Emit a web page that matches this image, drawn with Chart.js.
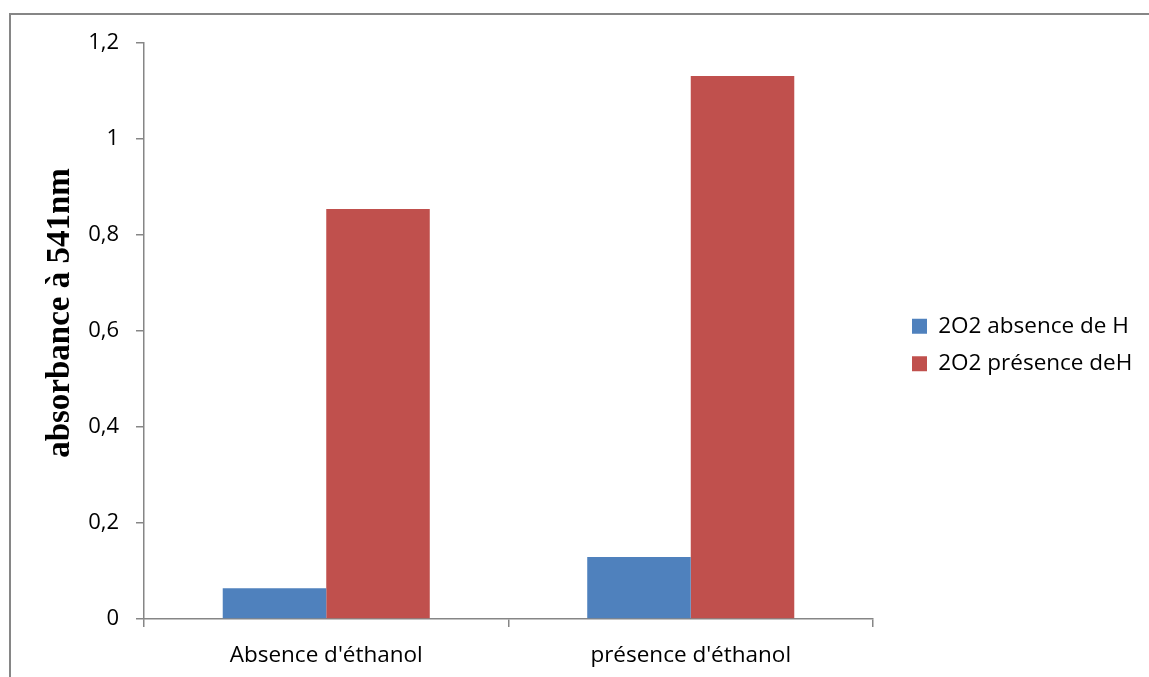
<!DOCTYPE html>
<html>
<head>
<meta charset="utf-8">
<title>Absorbance à 541nm</title>
<script src="https://cdn.jsdelivr.net/npm/chart.js@4.4.1/dist/chart.umd.min.js"></script>
<style>
  html, body { margin: 0; padding: 0; background: #ffffff; }
  #wrap { position: relative; width: 1149px; height: 677px; }
</style>
</head>
<body>
<div id="wrap"><canvas id="chart" width="1149" height="677"></canvas></div>
<script>
// Categories and measured absorbance values
const categories = ["Absence d'éthanol", "présence d'éthanol"];
const seriesNames = ["2O2 absence de H", "2O2 présence deH"];
const absenceH = [0.064, 0.129];
const presenceH = [0.854, 1.131];
const yTickLabels = ["0", "0,2", "0,4", "0,6", "0,8", "1", "1,2"];

const AXIS_GREY = '#868686';

Chart.defaults.font.family = "'Open Sans', 'DejaVu Sans', sans-serif";
Chart.defaults.color = '#000000';

// Grey outer frame (top and left edges of the chart box)
const frame = {
  id: 'frame',
  beforeDraw(chart) {
    const ctx = chart.ctx;
    ctx.save();
    ctx.strokeStyle = AXIS_GREY;
    ctx.lineWidth = 2;
    ctx.beginPath();
    ctx.moveTo(10, chart.height + 2);
    ctx.lineTo(10, 14);
    ctx.lineTo(chart.width + 2, 14);
    ctx.stroke();
    ctx.restore();
  }
};

// Legend occupies the strip right of the plot; items sit a little in from its edge.
// The y-axis title sits slightly above the middle of the axis.
const placement = {
  id: 'placement',
  beforeLayout(chart) {
    const lg = chart.legend;
    if (lg && !lg._fixedFit) {
      const fit = lg.fit;
      lg.fit = function () {
        fit.call(this);
        this.width = 276;
      };
      lg._fixedFit = true;
    }
  },
  afterLayout(chart) {
    const lg = chart.legend;
    if (lg) {
      lg.left += 24; lg.right += 24;
      lg.top -= 15; lg.bottom -= 15;
    }
    const y = chart.scales.y;
    if (y && !y._raisedTitle) {
      const drawTitle = y.drawTitle;
      y.drawTitle = function () {
        this.ctx.save();
        this.ctx.translate(0, -18);
        drawTitle.call(this);
        this.ctx.restore();
      };
      y._raisedTitle = true;
    }
  }
};

new Chart(document.getElementById('chart'), {
  type: 'bar',
  data: {
    labels: categories,
    datasets: [
      { label: seriesNames[0], data: absenceH, backgroundColor: '#4F81BD', borderWidth: 0 },
      { label: seriesNames[1], data: presenceH, backgroundColor: '#C0504D', borderWidth: 0 }
    ]
  },
  options: {
    responsive: false,
    animation: false,
    devicePixelRatio: 1,
    layout: { padding: { top: 43, right: 0, bottom: 0, left: 0 } },
    datasets: { bar: { categoryPercentage: 0.568, barPercentage: 1.0 } },
    plugins: {
      tooltip: { enabled: false },
      legend: {
        position: 'right',
        labels: {
          boxWidth: 15,
          boxHeight: 15,
          padding: 15,
          font: { size: 22.5 },
          color: '#000000'
        }
      }
    },
    scales: {
      x: {
        grid: { offset: true, drawOnChartArea: false, tickLength: 8, color: AXIS_GREY, lineWidth: 1.5 },
        border: { color: AXIS_GREY, width: 1.5 },
        ticks: { font: { size: 22.5 }, padding: 15, color: '#000000', maxRotation: 0 },
        afterFit(scale) { scale.height = 58; }
      },
      y: {
        min: 0,
        max: 1.2,
        ticks: {
          stepSize: 0.2,
          font: { size: 22 },
          padding: 17,
          color: '#000000',
          callback: (v, i) => yTickLabels[i]
        },
        grid: { drawOnChartArea: false, tickLength: 8, color: AXIS_GREY, lineWidth: 1.5 },
        border: { color: AXIS_GREY, width: 1.5 },
        title: {
          display: true,
          text: 'absorbance à 541nm',
          font: { family: "'Liberation Serif', 'Times New Roman', serif", size: 33, weight: 'bold' },
          color: '#000000',
          padding: { top: 41, bottom: 0 }
        },
        afterFit(scale) { scale.width = 144; }
      }
    }
  },
  plugins: [frame, placement]
});
</script>
</body>
</html>
